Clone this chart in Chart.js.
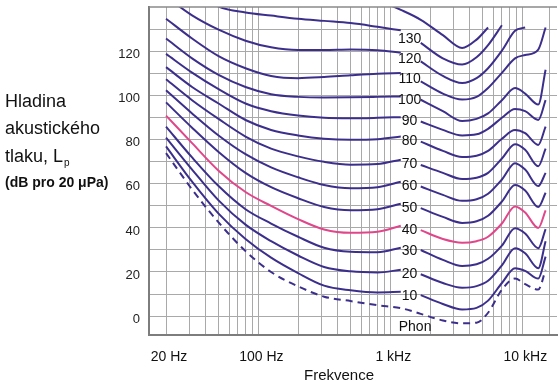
<!DOCTYPE html>
<html>
<head>
<meta charset="utf-8">
<script src="https://cdn.jsdelivr.net/npm/chart.js@4.4.1/dist/chart.umd.min.js"></script>
<style>
  html, body { margin: 0; padding: 0; background: #fff; }
</style>
</head>
<body>
<canvas id="chart" width="558" height="381"></canvas>
<script>
// frequencies (Hz) - left part ends before the phon label, right part starts after it
const freqLeft  = [20, 31.5, 50, 80, 125, 200, 315, 500, 800, 1200];
const freqRight = [1700, 2500, 3500, 4500, 5500, 7000, 8800, 10500, 13200, 15000];

// sound pressure level (dB), one pair of arrays per phon curve
const p140L = [null, null, null, null, null, null, null, null, 143.5, 139];
const p140R = [134.5, 127.5, 121.7, 125.5, 131, null, null, null, null, null];
const p130L = [156, 148, 140.5, 137.8, 136.4, 135, 134, 133, 131.3, 129.7];
const p130R = [124, 117, 114.2, 117.5, 123, 132, null, null, null, null];
const p120L = [145, 136.5, 130, 125, 122, 120.8, 120.8, 121, 120.7, 119.5];
const p120R = [115.6, 109, 105.8, 108, 112.5, 120.5, 129.5, 131, null, null];
const p110L = [135, 126, 118, 112.5, 109, 108, 108.5, 109.3, 110, 110.3];
const p110R = [106.5, 101, 98.3, 99.5, 103.5, 110.4, 117, 118.5, 121, 131];
const p100L = [126, 117, 109.5, 104, 100.7, 99.5, 99.2, 99.3, 99.5, 99.7];
const p100R = [98.2, 93, 88.5, 89.5, 92, 98, 103.5, 101, 96, 111.8];
const p90L  = [119, 110.5, 103, 96.5, 93, 91, 90, 89.8, 90, 90.3];
const p90R  = [88.3, 84.5, 82, 82.5, 85, 90, 94, 93, 89, 98];
const p80L  = [113, 104, 96.5, 89, 84.5, 82, 80.5, 80, 80.3, 81.5];
const p80R  = [79.2, 75, 72.2, 72.8, 75, 80.5, 84.5, 83, 77.7, 86];
const p70L  = [107.5, 98, 89.5, 81.5, 76, 72.5, 70, 68.7, 69, 71];
const p70R  = [68.6, 65, 62.2, 62.8, 65, 71.5, 78, 75.5, 68, 76];
const p60L  = [102.5, 92, 82, 73.5, 67.5, 63, 59.5, 58, 58.5, 61];
const p60R  = [58.8, 55, 52.3, 53, 55.5, 62, 69.4, 66.5, 59, 65];
const p50L  = [97, 85.5, 74.5, 65, 58.5, 53.5, 49.5, 48, 48.5, 51];
const p50R  = [49, 45, 42.3, 43, 45.5, 52, 59.5, 57, 49.5, 56];
const p40L  = [91, 78.5, 66, 56.3, 50, 44, 39.3, 37.8, 38.3, 41];
const p40R  = [39, 35, 33.3, 34, 36, 42, 49.7, 47, 40, 48];
const p30L  = [86, 72, 59, 48.5, 42, 36, 31, 29.2, 29, 31];
const p30R  = [30, 25.5, 22.7, 23.5, 26, 32, 39.9, 37.5, 30.8, 39.5];
const p20L  = [81, 66.5, 52.5, 41.5, 34, 27.5, 22.3, 20.3, 19.8, 21];
const p20R  = [19, 15, 12.9, 13.6, 16, 23, 30.8, 28.5, 21.7, 34];
const p10L  = [77, 61, 46.5, 35, 26.5, 19.5, 13.8, 11.7, 10.7, 11];
const p10R  = [9.5, 5.5, 3, 3.7, 7, 15, 21.7, 20.5, 17, 27];
// hearing threshold (dashed)
const thrL  = [74, 57.5, 42.5, 29.5, 20, 13.5, 8.8, 6.8, 4.9, 3.6];
const thrR  = [1, -2, -3.3, -3, 1.5, 12, 17, 14.5, 12, 21];

// axis ticks
const xGrid = [20, 30, 40, 50, 60, 70, 80, 90, 100, 200, 300, 400, 500, 600, 700, 800, 900,
               1000, 2000, 3000, 4000, 5000, 6000, 7000, 8000, 9000, 10000, 16000];
const xTickText = { 20: '20 Hz', 100: '100 Hz', 1000: '1 kHz', 10000: '10 kHz' };
const yGrid = [0, 10, 20, 30, 40, 50, 60, 70, 80, 90, 100, 110, 120, 130];
const yTickText = [0, 20, 40, 60, 80, 100, 120];

const BLUE = '#3c2f8c';
const PINK = '#e0468a';
const FONT = "'Liberation Sans', Arial, Helvetica, sans-serif";

const curves = [
  [140, p140L, p140R], [130, p130L, p130R], [120, p120L, p120R], [110, p110L, p110R],
  [100, p100L, p100R], [90, p90L, p90R], [80, p80L, p80R], [70, p70L, p70R],
  [60, p60L, p60R], [50, p50L, p50R], [40, p40L, p40R], [30, p30L, p30R],
  [20, p20L, p20R], [10, p10L, p10R]
];

function pts(left, right, gap) {
  const a = freqLeft.map((f, i) => ({ x: f, y: left[i] }));
  if (gap) a.push({ x: 1420, y: null });
  return a.concat(freqRight.map((f, i) => ({ x: f, y: right[i] })));
}

const datasets = curves.map(([n, l, r]) => ({
  label: String(n),
  data: pts(l, r, n !== 140),
  borderColor: n === 40 ? PINK : BLUE,
  borderWidth: 2,
  pointRadius: 0,
  cubicInterpolationMode: 'monotone',
  spanGaps: false,
  fill: false
}));
datasets.push({
  label: 'threshold',
  data: pts(thrL, thrR, false),
  borderColor: BLUE,
  borderWidth: 2,
  borderDash: [7, 5],
  pointRadius: 0,
  cubicInterpolationMode: 'monotone',
  fill: false
});

// phon numbers on the curves, frame top line and the texts around the chart
const textPlugin = {
  id: 'texts',
  afterDatasetsDraw(chart) {
    const ctx = chart.ctx, xs = chart.scales.x, ys = chart.scales.y, a = chart.chartArea;
    ctx.save();
    ctx.strokeStyle = '#8a8a8a';
    ctx.lineWidth = 1.5;
    ctx.beginPath();
    ctx.moveTo(a.left, a.top);
    ctx.lineTo(a.right, a.top);
    ctx.stroke();

    ctx.font = '14px ' + FONT;
    ctx.fillStyle = '#111';
    ctx.textAlign = 'center';
    ctx.textBaseline = 'middle';
    curves.forEach(([n, l, r]) => {
      if (n === 140) return;
      const v = (l[l.length - 1] + r[0]) / 2 - 1;
      ctx.fillText(String(n), xs.getPixelForValue(1400), ys.getPixelForValue(v));
    });
    ctx.fillText('Phon', xs.getPixelForValue(1540), ys.getPixelForValue(-5));
    ctx.restore();
  },
  afterDraw(chart) {
    const ctx = chart.ctx;
    ctx.save();
    ctx.fillStyle = '#111';
    ctx.textAlign = 'left';
    ctx.textBaseline = 'alphabetic';
    ctx.font = '18px ' + FONT;
    ctx.fillText('Hladina', 5, 107);
    ctx.fillText('akustického', 5, 134);
    ctx.fillText('tlaku, L', 5, 162);
    const w = ctx.measureText('tlaku, L').width;
    ctx.font = '10px ' + FONT;
    ctx.fillText('p', 5 + w + 1, 166);
    ctx.font = 'bold 14px ' + FONT;
    ctx.fillText('(dB pro 20 \u03bcPa)', 5, 187);
    ctx.font = '15px ' + FONT;
    ctx.textAlign = 'center';
    ctx.fillText('Frekvence', 339, 380);
    ctx.restore();
  }
};

new Chart(document.getElementById('chart'), {
  type: 'line',
  data: { datasets },
  options: {
    responsive: false,
    animation: false,
    devicePixelRatio: 1,
    layout: { padding: { top: 7, right: 1, left: 0, bottom: 0 } },
    plugins: { legend: { display: false }, tooltip: { enabled: false } },
    scales: {
      x: {
        type: 'logarithmic',
        min: 14.86,
        max: 18300,
        afterBuildTicks: s => { s.ticks = xGrid.map(v => ({ value: v })); },
        afterFit: s => { s.height = 46; s.paddingLeft = 0; s.paddingRight = 0; },
        grid: { color: '#a9a9a9', lineWidth: 1, drawTicks: false },
        border: { color: '#7d7d7d', width: 2 },
        ticks: {
          autoSkip: false, maxRotation: 0, padding: 14, labelOffset: 3,
          color: '#111', font: { family: FONT, size: 14 },
          callback: v => xTickText[v] || ''
        }
      },
      y: {
        type: 'linear',
        min: -8.6,
        max: 140.3,
        afterBuildTicks: s => { s.ticks = yGrid.map(v => ({ value: v })); },
        afterFit: s => { s.width = 149; s.paddingTop = 0; s.paddingBottom = 0; },
        grid: { color: '#a9a9a9', lineWidth: 1, drawTicks: false },
        border: { color: '#7d7d7d', width: 2 },
        ticks: {
          padding: 9, labelOffset: 3, color: '#222', font: { family: FONT, size: 13 },
          callback: v => yTickText.includes(v) ? String(v) : ''
        }
      }
    }
  },
  plugins: [textPlugin]
});
</script>
</body>
</html>
